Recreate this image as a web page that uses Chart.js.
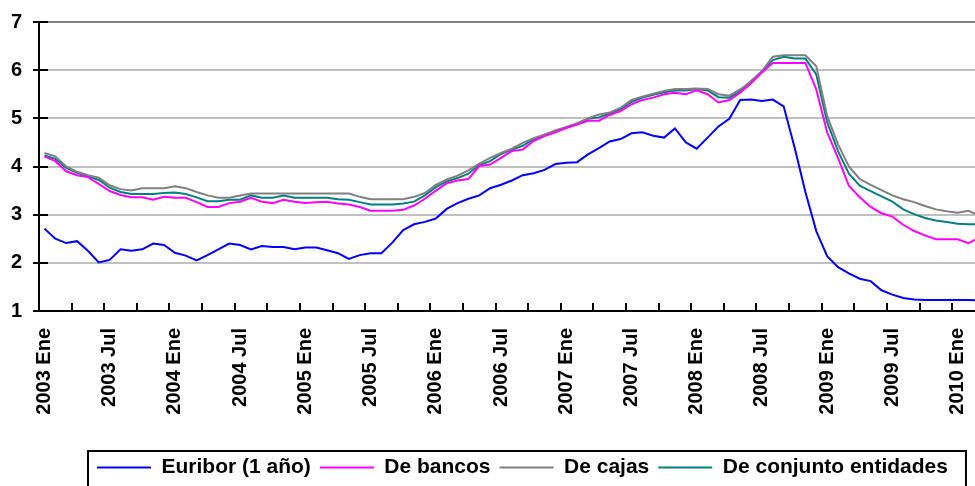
<!DOCTYPE html>
<html><head><meta charset="utf-8">
<script src="https://cdn.jsdelivr.net/npm/chart.js@4/dist/chart.umd.min.js"></script>
<style>html,body{margin:0;padding:0;overflow:hidden;background:#fff}#wrap{width:975px;height:488px}</style>
</head><body><div id="wrap"><canvas id="c" width="975" height="488"></canvas></div>
<script>
const years = [2003, 2004, 2005, 2006, 2007, 2008, 2009, 2010];
const monthNames = ['Ene','Feb','Mar','Abr','May','Jun','Jul','Ago','Sep','Oct','Nov','Dic'];
const categories = [];
years.forEach(y => monthNames.forEach(m => categories.push(y + ' ' + m)));
const tickLabels = ['2003 Ene','2003 Jul','2004 Ene','2004 Jul','2005 Ene','2005 Jul','2006 Ene','2006 Jul','2007 Ene','2007 Jul','2008 Ene','2008 Jul','2009 Ene','2009 Jul','2010 Ene'];
const yTicks = [1, 2, 3, 4, 5, 6, 7];

const euribor = [
 2.71,2.50,2.41,2.45,2.25,2.01,2.06,2.28,2.25,2.28,2.40,2.37,
 2.21,2.15,2.05,2.16,2.28,2.40,2.37,2.28,2.35,2.33,2.33,2.28,
 2.32,2.32,2.26,2.20,2.08,2.16,2.20,2.20,2.42,2.68,2.80,2.85,
 2.92,3.12,3.24,3.33,3.40,3.55,3.62,3.71,3.82,3.86,3.93,4.05,
 4.08,4.09,4.25,4.38,4.52,4.57,4.69,4.71,4.64,4.60,4.79,4.50,
 4.37,4.60,4.83,4.99,5.38,5.39,5.36,5.39,5.25,4.40,3.47,2.66,
 2.14,1.91,1.78,1.67,1.62,1.43,1.34,1.27,1.24,1.23,1.23,1.23,
 1.23,1.23,1.22
];
const bancos = [
 4.21,4.11,3.90,3.82,3.78,3.64,3.49,3.41,3.36,3.36,3.31,3.37,
 3.35,3.35,3.26,3.16,3.16,3.24,3.27,3.35,3.27,3.24,3.31,3.27,
 3.24,3.26,3.27,3.23,3.21,3.16,3.08,3.08,3.08,3.10,3.19,3.33,
 3.50,3.65,3.71,3.74,4.01,4.04,4.18,4.32,4.35,4.53,4.63,4.71,
 4.80,4.87,4.95,4.95,5.07,5.15,5.29,5.38,5.43,5.50,5.53,5.50,
 5.58,5.50,5.33,5.38,5.53,5.73,5.95,6.15,6.15,6.15,6.15,5.60,
 4.71,4.18,3.60,3.36,3.16,3.03,2.96,2.79,2.66,2.57,2.49,2.49,
 2.49,2.41,2.52
];
const cajas = [
 4.28,4.21,4.00,3.89,3.82,3.77,3.61,3.53,3.50,3.55,3.55,3.55,
 3.59,3.55,3.47,3.40,3.35,3.35,3.40,3.44,3.44,3.44,3.44,3.44,
 3.44,3.44,3.44,3.44,3.44,3.37,3.32,3.32,3.32,3.32,3.37,3.45,
 3.62,3.73,3.81,3.92,4.06,4.18,4.28,4.37,4.49,4.59,4.66,4.75,
 4.82,4.90,5.00,5.08,5.12,5.22,5.38,5.45,5.51,5.57,5.61,5.61,
 5.62,5.61,5.50,5.47,5.60,5.77,5.98,6.28,6.31,6.31,6.31,6.08,
 5.05,4.46,4.00,3.74,3.62,3.51,3.40,3.32,3.26,3.18,3.11,3.07,
 3.04,3.08,2.98
];
const conjunto = [
 4.23,4.16,3.97,3.87,3.80,3.72,3.56,3.47,3.43,3.43,3.43,3.45,
 3.46,3.43,3.36,3.28,3.28,3.31,3.31,3.40,3.35,3.35,3.40,3.35,
 3.35,3.35,3.35,3.32,3.31,3.26,3.21,3.21,3.21,3.23,3.27,3.40,
 3.57,3.69,3.76,3.85,4.03,4.11,4.26,4.35,4.43,4.57,4.66,4.74,
 4.81,4.88,4.99,5.02,5.10,5.19,5.34,5.43,5.49,5.54,5.58,5.58,
 5.61,5.58,5.44,5.43,5.56,5.77,5.98,6.21,6.28,6.24,6.24,5.91,
 4.92,4.32,3.85,3.60,3.49,3.38,3.27,3.11,3.01,2.93,2.88,2.85,
 2.81,2.80,2.80
];

const FONT = "'Liberation Sans', Arial, sans-serif";
const pts = arr => arr.map((v, i) => ({x: i, y: v}));
const tickIdx = tickLabels.map(l => categories.indexOf(l));
const ds = (label, arr, col) => ({label, data: pts(arr), borderColor: col, backgroundColor: col,
  pointBorderColor: col, pointBackgroundColor: col, pointBorderWidth: 2, borderWidth: 2});
const noPad = s => { s.paddingTop = 0; s.paddingBottom = 0; s.paddingLeft = 0; s.paddingRight = 0; };

const deco = {
  id: 'deco',
  afterLayout(chart) { chart.legend.left = 88; },
  afterDraw(chart) {
    const c = chart.ctx, a = chart.chartArea, xs = chart.scales.x, ys = chart.scales.y;
    c.save();
    c.strokeStyle = '#000'; c.lineWidth = 2;
    c.beginPath();
    for (let k = 2.5; xs.getPixelForValue(k) < a.right; k += 3) {
      const px = Math.round(xs.getPixelForValue(k));
      c.moveTo(px, a.bottom); c.lineTo(px, a.bottom - 8);
    }
    yTicks.forEach(v => {
      const py = Math.round(ys.getPixelForValue(v));
      c.moveTo(a.left - 6, py); c.lineTo(a.left + 9, py);
    });
    c.stroke();
    const lg = chart.legend, hb = lg.legendHitBoxes, last = hb[hb.length - 1];
    c.strokeRect(lg.left, lg.top + 3, last.left + last.width + 18 - lg.left, chart.height);
    c.restore();
  }
};

new Chart(document.getElementById('c'), {
  type: 'line',
  data: {
    datasets: [
      ds('Euribor (1 año)', euribor, '#0000FF'),
      ds('De bancos', bancos, '#FF00FF'),
      ds('De cajas', cajas, '#808080'),
      ds('De conjunto entidades', conjunto, '#008080')
    ]
  },
  options: {
    responsive: false, animation: false, devicePixelRatio: 1,
    layout: {padding: {top: 22, left: 0, right: 0, bottom: 0}},
    elements: {line: {borderWidth: 2, tension: 0}, point: {radius: 0}},
    plugins: {
      tooltip: {enabled: false},
      legend: {
        position: 'bottom', align: 'start',
        labels: {usePointStyle: true, pointStyle: 'line', pointStyleWidth: 54, padding: 9, color: '#000',
                 font: {family: FONT, size: 21, weight: 'bold'}}
      }
    },
    scales: {
      x: {
        type: 'linear', min: -0.5, max: 85.6,
        afterBuildTicks: s => { s.ticks = tickIdx.map(v => ({value: v})); },
        afterFit: s => { s.height = 137; noPad(s); },
        ticks: {autoSkip: false, minRotation: 90, maxRotation: 90, padding: 17, color: '#000',
                font: {family: FONT, size: 20, weight: 'bold'},
                callback: v => categories[v]},
        grid: {drawOnChartArea: false, drawTicks: false},
        border: {color: '#000', width: 2}
      },
      y: {
        min: 1, max: 7,
        afterFit: s => { s.width = 39; noPad(s); },
        ticks: {stepSize: 1, padding: 17, color: '#000', font: {family: FONT, size: 20, weight: 'bold'}},
        grid: {drawTicks: false, lineWidth: 2, color: c => c.tick && c.tick.value === 7 ? '#808080' : '#c0c0c0'},
        border: {color: '#000', width: 2}
      }
    }
  },
  plugins: [deco]
});
</script></body></html>
